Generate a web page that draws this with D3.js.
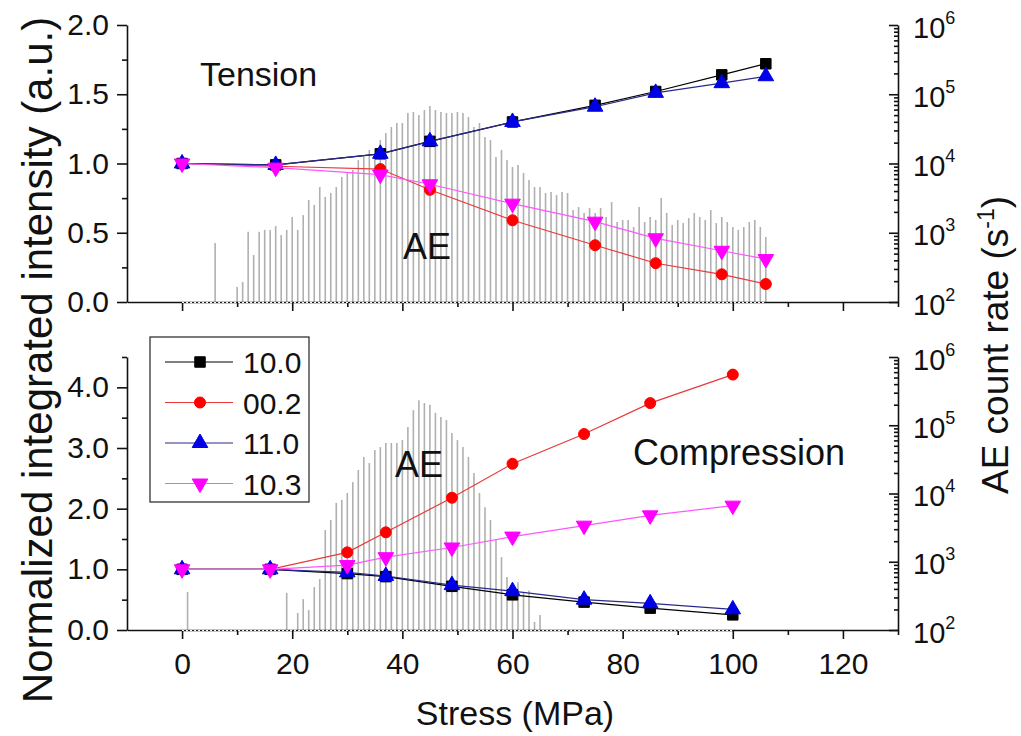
<!DOCTYPE html>
<html>
<head>
<meta charset="utf-8">
<script src="https://cdn.jsdelivr.net/npm/d3@7"></script>
<style>
  body { margin: 0; background: #fff; }
  text { font-family: "Liberation Sans", Arial, sans-serif; fill: #111; }
</style>
</head>
<body>
<div id="container"></div>
<script>
/* DATA */
const seriesNames = ["10.0", "00.2", "11.0", "10.3"];

// tension panel (top)
const tensionStress = [0, 17, 36, 45, 60, 75, 86, 98, 106];
const tension100 = [1.00, 0.99, 1.07, 1.16, 1.30, 1.42, 1.52, 1.64, 1.72];
const tension002 = [1.00, 0.98, 0.96, 0.81, 0.59, 0.41, 0.28, 0.20, 0.13];
const tension110 = [1.00, 0.99, 1.07, 1.16, 1.30, 1.41, 1.51, 1.58, 1.63];
const tension103 = [1.00, 0.97, 0.92, 0.85, 0.71, 0.58, 0.46, 0.37, 0.31];

// compression panel (bottom)
const compStress = [0, 16, 30, 37, 49, 60, 73, 85, 100];
const comp100 = [1.00, 1.00, 0.93, 0.88, 0.72, 0.58, 0.46, 0.36, 0.25];
const comp002 = [1.00, 1.00, 1.28, 1.61, 2.18, 2.74, 3.23, 3.74, 4.21];
const comp110 = [1.00, 1.00, 0.95, 0.89, 0.74, 0.64, 0.50, 0.44, 0.34];
const comp103 = [1.00, 1.00, 1.07, 1.20, 1.36, 1.54, 1.72, 1.89, 2.05];

// AE count rate (s^-1), one bar per MPa
const aeTensionStress = [6].concat(d3.range(10, 107));
const aeTensionRate = [710,
  165, 195, 1030, 477, 1030, 1100, 1100, 1250, 930, 1100,
  1690, 1100, 1800, 2970, 2520, 4580, 3280, 3750, 4580, 6380,
  7300, 8050, 11200, 12400, 15700, 14200, 21800, 27500, 33600, 38400,
  38400, 53600, 55400, 50100, 59300, 67700, 59300, 55400, 53600, 53600,
  55400, 53600, 46900, 33600, 38400, 24100, 21800, 12400, 15700, 11200,
  8900, 9500, 7300, 5780, 4580, 4580, 3750, 3870, 3510, 3870,
  3750, 2130, 2350, 1930, 2280, 1930, 2280, 1690, 2780, 1430,
  1530, 1530, 1210, 2350, 1430, 1690, 1530, 3180, 1930, 1290,
  1530, 1380, 1630, 1930, 1690, 1530, 2130, 1380, 1690, 1430,
  1210, 1100, 1210, 1430, 1530, 1210, 870];

const aeCompStress = [1, 19].concat(d3.range(21, 66));
const aeCompRate = [360, 350,
  178, 283, 196, 427, 560, 2920, 4080, 7300, 8030, 10200,
  14700, 22100, 34300, 28000, 43400, 47900, 55000, 55000, 55000, 60600,
  93900, 166000, 232000, 212000, 199000, 152000, 132000, 119000, 76900, 60600,
  47900, 34300, 19900, 10200, 6300, 4080, 2090, 1170, 600, 420,
  500, 350, 380, 131, 166];

const xTicks = [0, 20, 40, 60, 80, 100, 120];
const xMinor = [10, 30, 50, 70, 90, 110, 130];

/* SCALES */
const width = 1021, height = 736;
const x = d3.scaleLinear().domain([-10, 130]).range([127, 898]);

const panels = [
  {
    y: d3.scaleLinear().domain([0, 2]).range([302, 25]),
    ae: d3.scaleLog().domain([1e2, 1e6]).range([302, 25]),
    ticks: [0, 0.5, 1, 1.5, 2], minor: [0.25, 0.75, 1.25, 1.75],
    stress: tensionStress, values: [tension100, tension002, tension110, tension103],
    aeStress: aeTensionStress, aeRate: aeTensionRate, xLabels: false
  },
  {
    y: d3.scaleLinear().domain([0, 4.5]).range([630, 357]),
    ae: d3.scaleLog().domain([1e2, 1e6]).range([630, 357]),
    ticks: [0, 1, 2, 3, 4], minor: [0.5, 1.5, 2.5, 3.5, 4.5],
    stress: compStress, values: [comp100, comp002, comp110, comp103],
    aeStress: aeCompStress, aeRate: aeCompRate, xLabels: true
  }
];

const styles = [
  { line: "#000000", fill: "#000000", sym: d3.symbolSquare, size: 110 },
  { line: "#e83a3a", fill: "#ff0000", sym: d3.symbolCircle, size: 95 },
  { line: "#2a2a8a", fill: "#0000e6", sym: d3.symbolTriangle, size: 105 },
  { line: "#ff55ff", fill: "#ff00ff", sym: d3.symbolTriangle, size: 105, flip: true }
];

/* HTML ELEMENTS */
const svg = d3.select("#container")
  .append("svg")
  .attr("width", width)
  .attr("height", height);

function marker(sel, st) {
  sel.attr("d", d3.symbol().type(st.sym).size(st.size))
    .attr("fill", st.fill)
    .attr("stroke", st.fill)
    .attr("stroke-width", 1);
}

panels.forEach(p => {
  const g = svg.append("g");
  const base = p.y(0);

  // AE bars
  g.selectAll("line.ae")
    .data(p.aeStress.map((s, i) => [s, p.aeRate[i]]))
    .join("line")
    .attr("class", "ae")
    .attr("x1", d => x(d[0])).attr("x2", d => x(d[0]))
    .attr("y1", p.ae(1e2)).attr("y2", d => p.ae(d[1]))
    .attr("stroke", "#b0b0b0")
    .attr("stroke-width", 1.6);

  // bottom axis
  const xAxis = g.append("g").attr("transform", `translate(0,${base})`)
    .call(d3.axisBottom(x).tickValues(xTicks).tickSize(9).tickSizeOuter(0).tickPadding(14)
      .tickFormat(p.xLabels ? d3.format("d") : ""));
  g.append("g").attr("transform", `translate(0,${base})`)
    .call(d3.axisBottom(x).tickValues(xMinor).tickSize(5).tickSizeOuter(0).tickFormat(""))
    .select(".domain").remove();
  xAxis.selectAll("text").attr("font-size", 30).style("font-family", "'Liberation Sans', Arial, sans-serif").attr("fill", "#111");
  // dotted stretch of the baseline where the AE record runs
  g.append("line")
    .attr("x1", x(0)).attr("x2", x(p.stress[p.stress.length - 1]))
    .attr("y1", base + 0.5).attr("y2", base + 0.5)
    .attr("stroke", "#fff").attr("stroke-width", 1.2).attr("stroke-dasharray", "2,2");

  // left axis
  const yAxis = g.append("g").attr("transform", `translate(${x(-10)},0)`)
    .call(d3.axisLeft(p.y).tickValues(p.ticks).tickSize(10).tickSizeOuter(0).tickPadding(8)
      .tickFormat(d3.format(".1f")));
  g.append("g").attr("transform", `translate(${x(-10)},0)`)
    .call(d3.axisLeft(p.y).tickValues(p.minor).tickSize(5).tickSizeOuter(0).tickFormat(""))
    .select(".domain").remove();
  yAxis.selectAll("text").attr("font-size", 30).style("font-family", "'Liberation Sans', Arial, sans-serif").attr("fill", "#111");

  // right log axis, ticks pointing in
  const majors = [1e2, 1e3, 1e4, 1e5, 1e6];
  const minors = [];
  [1e2, 1e3, 1e4, 1e5].forEach(d => d3.range(2, 10).forEach(k => minors.push(d * k)));
  const rAxis = g.append("g").attr("transform", `translate(${x(130)},0)`)
    .call(d3.axisRight(p.ae).tickValues(majors).tickSize(-9).tickSizeOuter(0).tickPadding(14).tickFormat(""));
  g.append("g").attr("transform", `translate(${x(130)},0)`)
    .call(d3.axisRight(p.ae).tickValues(minors).tickSize(-4).tickSizeOuter(0).tickFormat(""))
    .select(".domain").remove();
  rAxis.selectAll(".tick").each(function (d) {
    const t = d3.select(this).append("text")
      .attr("x", 15).attr("y", 12)
      .attr("font-size", 29).attr("text-anchor", "start");
    t.append("tspan").text("10");
    t.append("tspan").attr("dy", -14).attr("font-size", 18).text(Math.round(Math.log10(d)));
  });

  g.selectAll(".domain, .tick line").attr("stroke", "#111").attr("stroke-width", 1.6);

  // series
  p.values.forEach((vals, i) => {
    const st = styles[i];
    const pts = p.stress.map((s, j) => [s, vals[j]]);
    g.append("path")
      .datum(pts)
      .attr("fill", "none")
      .attr("stroke", st.line)
      .attr("stroke-width", 1.2)
      .attr("d", d3.line().x(d => x(d[0])).y(d => p.y(d[1])));
    g.selectAll(null)
      .data(pts)
      .join("path")
      .attr("transform", d => `translate(${x(d[0])},${p.y(d[1])})${st.flip ? " rotate(180)" : ""}`)
      .call(marker, st);
  });
});

// annotations
svg.append("text").attr("x", 200).attr("y", 86).attr("font-size", 34).text("Tension");
svg.append("text").attr("x", 403).attr("y", 259).attr("font-size", 36).text("AE");
svg.append("text").attr("x", 395).attr("y", 477).attr("font-size", 36).text("AE");
svg.append("text").attr("x", 633).attr("y", 465).attr("font-size", 36).text("Compression");

// axis titles
svg.append("text")
  .attr("transform", "translate(52,360) rotate(-90)")
  .attr("text-anchor", "middle").attr("font-size", 42)
  .text("Normalized integrated intensity (a.u.)");

const rt = svg.append("text")
  .attr("transform", "translate(1008,345) rotate(-90)")
  .attr("text-anchor", "middle").attr("font-size", 37);
rt.append("tspan").text("AE count rate (s");
rt.append("tspan").attr("dy", -14).attr("font-size", 23).text("-1");
rt.append("tspan").attr("dy", 14).text(")");

svg.append("text")
  .attr("x", 515).attr("y", 725)
  .attr("text-anchor", "middle").attr("font-size", 34)
  .text("Stress (MPa)");

// legend
const lg = svg.append("g");
lg.append("rect")
  .attr("x", 150).attr("y", 337).attr("width", 159).attr("height", 165)
  .attr("fill", "#fff").attr("stroke", "#222").attr("stroke-width", 1.2);
seriesNames.forEach((name, i) => {
  const st = styles[i];
  const yy = 362 + i * 40.5;
  lg.append("line").attr("x1", 165).attr("x2", 233).attr("y1", yy).attr("y2", yy)
    .attr("stroke", st.line).attr("stroke-width", 1.2);
  lg.append("path")
    .attr("transform", `translate(200,${yy})${st.flip ? " rotate(180)" : ""}`)
    .call(marker, st);
  lg.append("text").attr("x", 243).attr("y", yy + 11).attr("font-size", 30).text(name);
});
</script>
</body>
</html>
